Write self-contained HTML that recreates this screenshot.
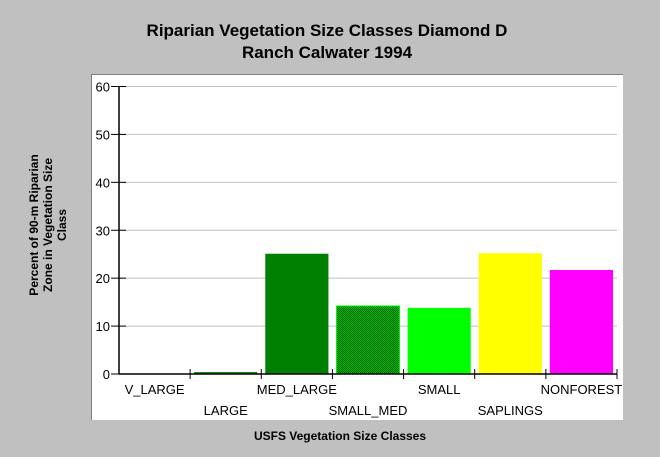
<!DOCTYPE html>
<html><head><meta charset="utf-8"><style>
body{margin:0;background:#c0c0c0;}
svg{display:block;font-family:"Liberation Sans",Arial,sans-serif;}
</style></head><body>
<svg id="chart" width="660" height="457">
<defs>
<pattern id="checker" width="2" height="2" patternUnits="userSpaceOnUse">
<rect width="2" height="2" fill="#00c000"/>
<rect width="1" height="1" fill="#006000"/><rect x="1" y="1" width="1" height="1" fill="#006000"/>
</pattern>
</defs>
<rect x="0" y="0" width="660" height="457" fill="#c0c0c0"/>
<text x="327" y="36" font-size="17" font-weight="bold" text-anchor="middle">Riparian Vegetation Size Classes Diamond D</text>
<text x="327" y="58" font-size="17" font-weight="bold" text-anchor="middle">Ranch Calwater 1994</text>
<rect x="91" y="74" width="532" height="346" fill="#fff"/>
<path d="M91.5 420 V74.5 H623" stroke="#808080" fill="none"/>
<g id="grid"></g>
<g id="bars"></g>
<g id="axes"></g>
<g transform="translate(50,225) rotate(-90)" font-size="12" font-weight="bold" text-anchor="middle">
<text x="0" y="-12">Percent of 90-m Riparian</text>
<text x="0" y="2">Zone in Vegetation Size</text>
<text x="0" y="16">Class</text>
</g>
<text x="340" y="440" font-size="12" font-weight="bold" text-anchor="middle">USFS Vegetation Size Classes</text>
</svg>
<script>
const categories=["V_LARGE","LARGE","MED_LARGE","SMALL_MED","SMALL","SAPLINGS","NONFOREST"];
const values=[0,0.4,25.1,14.2,13.8,25.2,21.7];
const colors=["#008000","#008000","#008000","url(#checker)","#00ff00","#ffff00","#ff00ff"];
const yTicks=[0,10,20,30,40,50,60];
const NS="http://www.w3.org/2000/svg";
const x0=119,x1=617,y0=374,y1=86.5,ymax=60;
const slot=(x1-x0)/categories.length;
function y(v){return y0-(v/ymax)*(y0-y1);}
function mk(tag,attrs,parent){const e=document.createElementNS(NS,tag);for(const k in attrs)e.setAttribute(k,attrs[k]);parent.appendChild(e);return e;}
const grid=document.getElementById('grid'),bars=document.getElementById('bars'),axes=document.getElementById('axes');
yTicks.forEach(t=>{
  if(t>0){const g=mk('line',{x1:x0,x2:x1,y1:y(t),y2:y(t),stroke:'#c0c0c0'},grid);
  
  }
  const tk=mk('line',{x1:x0-8,x2:x0+7,y1:y(t),y2:y(t),stroke:'#000'},axes);
  
  
  const lb=mk('text',{x:x0-9,y:y(t)+5,'font-size':13,'text-anchor':'end'},axes);
  lb.textContent=t;
  
  
});
categories.forEach((c,i)=>{
  const bx=x0+i*slot+4,bw=slot-8;
  if(values[i]>0){
    const r=mk('rect',{x:bx,y:y(values[i]),width:bw,height:y0-y(values[i]),fill:colors[i]},bars);
    if(i===3){r.setAttribute('stroke','#00ff00');r.setAttribute('stroke-width','1');}
    
    
  }
  const tk=mk('line',{x1:x0+(i+1)*slot,x2:x0+(i+1)*slot,y1:y0-5,y2:y0+5,stroke:'#000'},axes);
  
  
  const lb=mk('text',{x:x0+(i+0.5)*slot,y:i%2===0?394:415,'font-size':13,'text-anchor':'middle'},axes);
  lb.textContent=c;
  
  
});
const ya=mk('line',{x1:x0,x2:x0,y1:y1,y2:y0,stroke:'#000','stroke-width':1.5},axes);


const xa=mk('line',{x1:x0,x2:x1,y1:y0,y2:y0,stroke:'#000','stroke-width':1.5},axes);


</script>
</body></html>
